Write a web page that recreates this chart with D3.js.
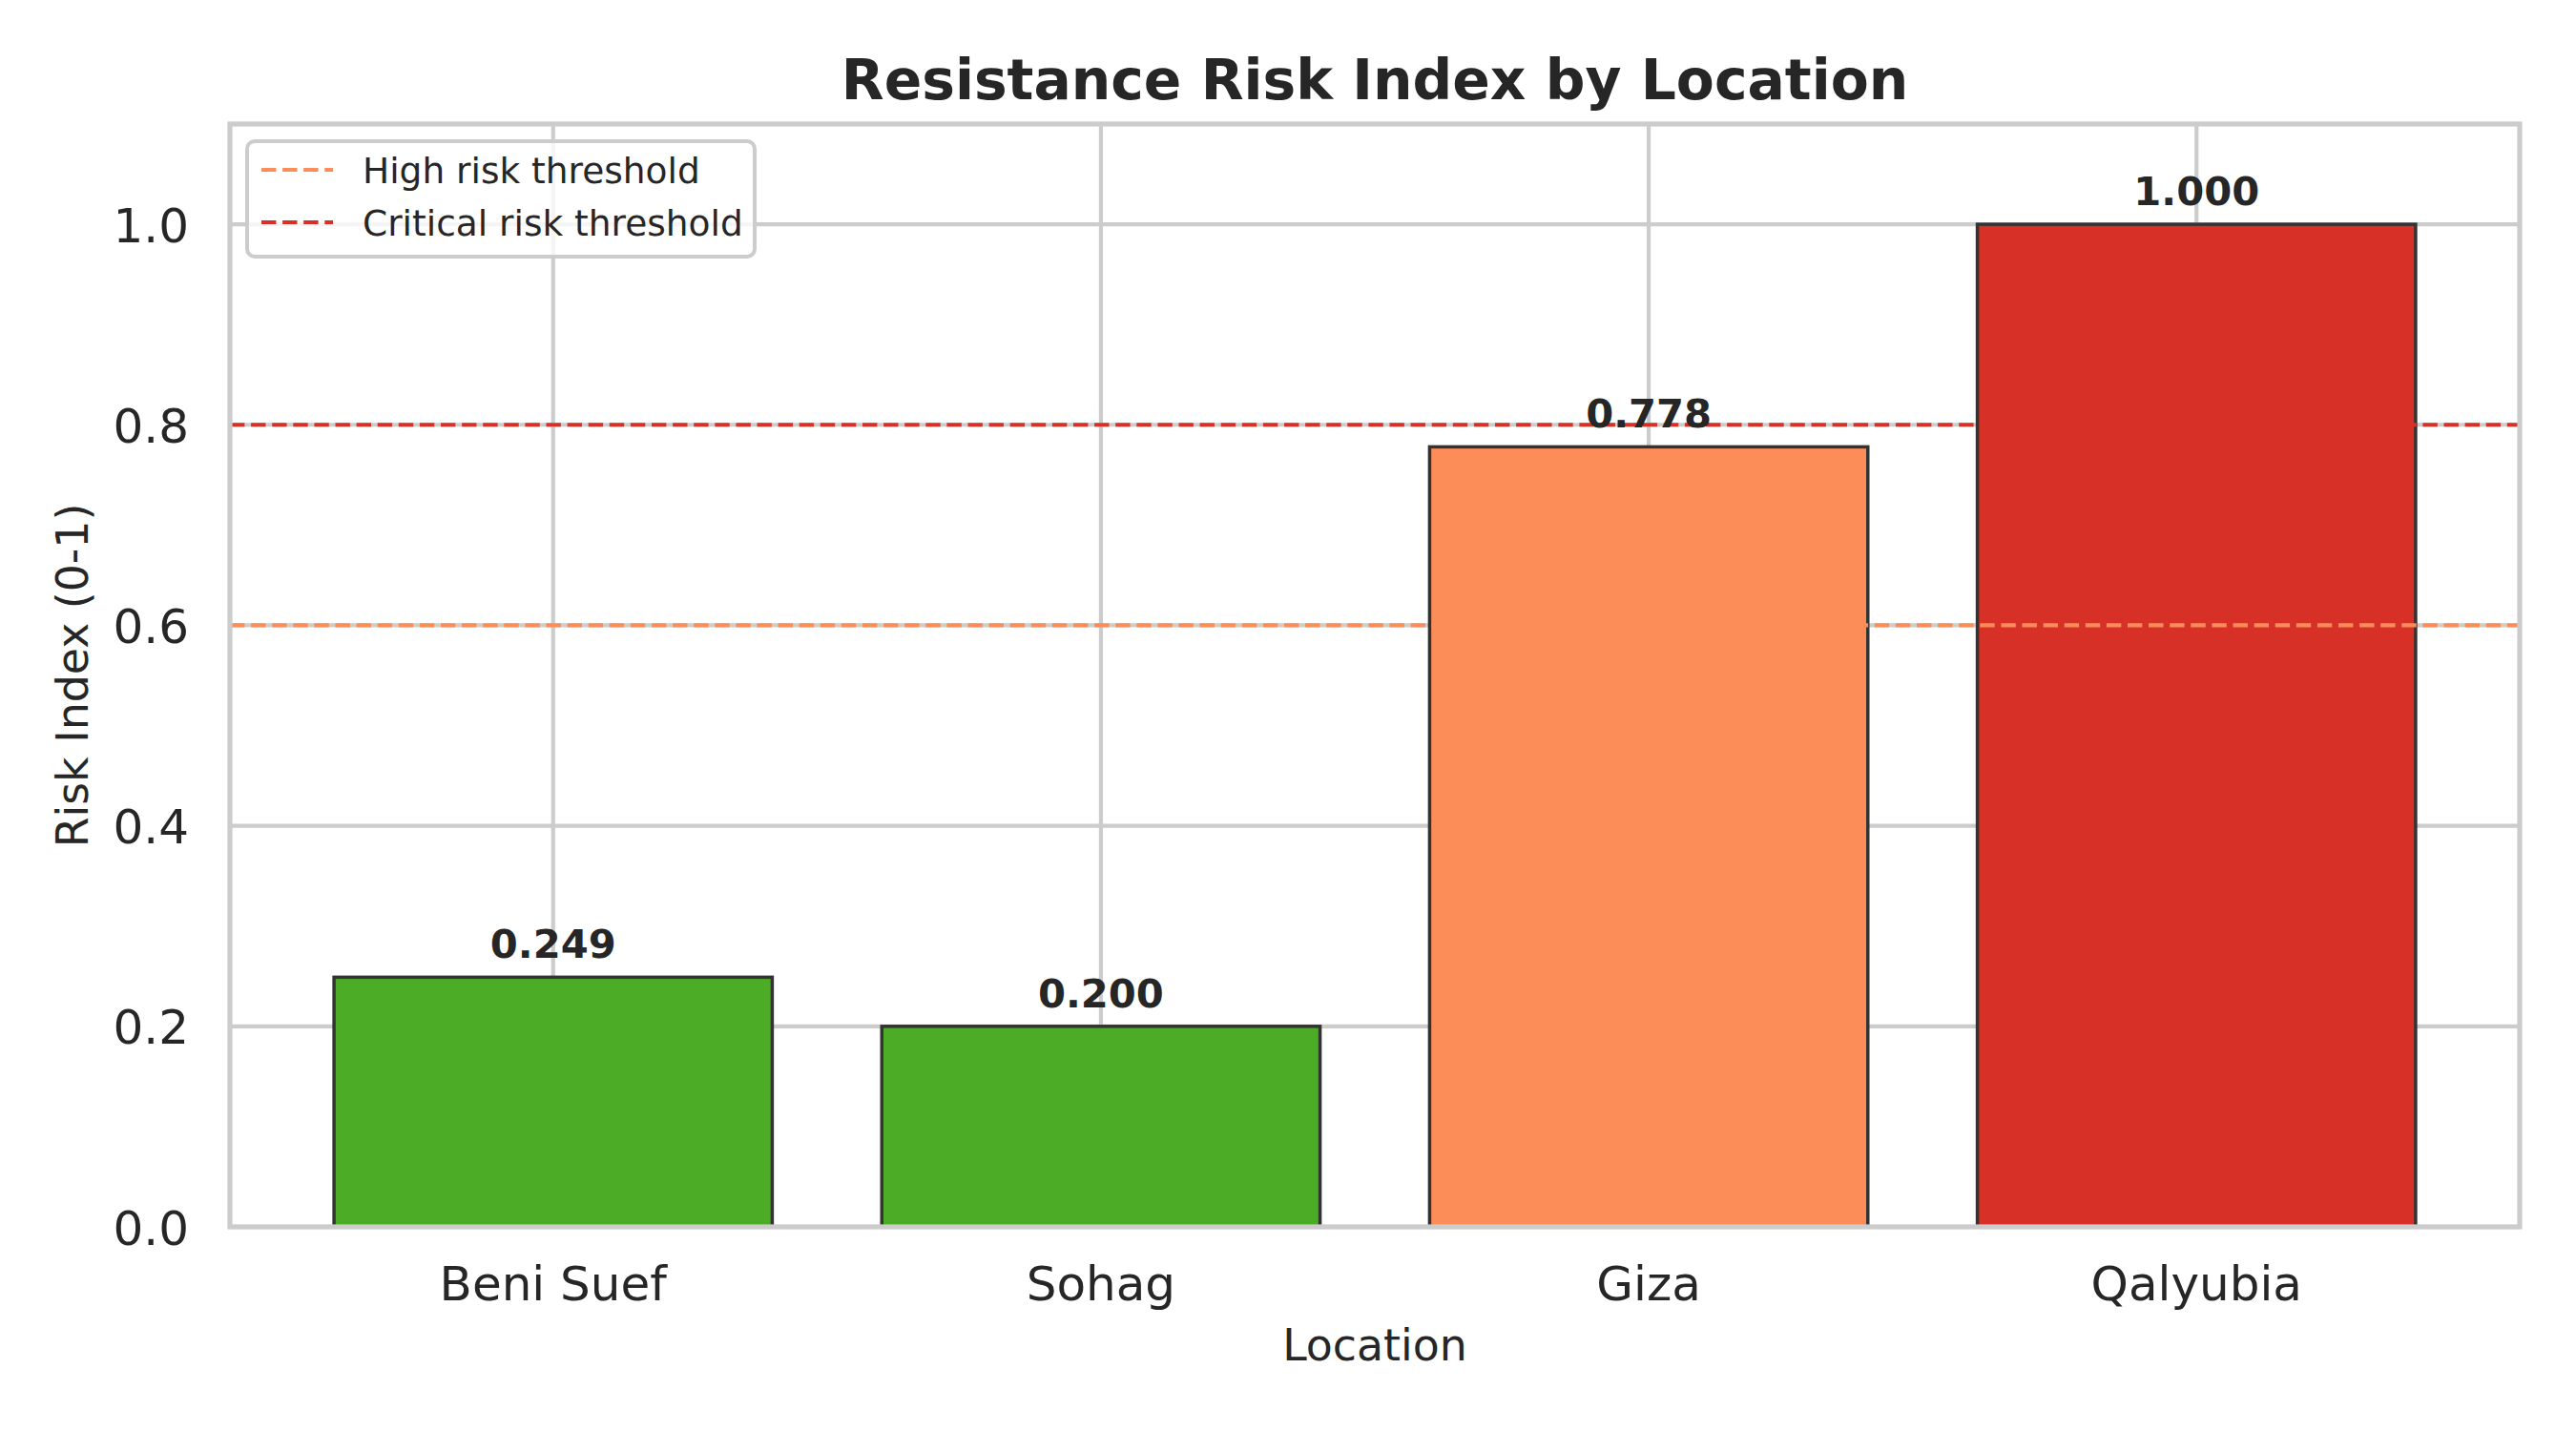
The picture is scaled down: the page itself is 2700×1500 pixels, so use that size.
<!DOCTYPE html>
<html>
<head>
<meta charset="utf-8">
<script src="https://cdn.jsdelivr.net/npm/d3@7"></script>
<style>
  html, body { margin: 0; padding: 0; background: #ffffff; }
  svg { display: block; font-family: "DejaVu Sans", sans-serif; }
</style>
</head>
<body>
<svg id="chart" width="2700" height="1500"></svg>
<script>
// ---- data ----
const locations = ["Beni Suef", "Sohag", "Giza", "Qalyubia"];
const riskIndex = [0.249, 0.200, 0.778, 1.000];
const thresholdLabels = ["High risk threshold", "Critical risk threshold"];
const thresholdValues = [0.6, 0.8];
const yTickValues = [0.0, 0.2, 0.4, 0.6, 0.8, 1.0];

// ---- styles ----
const thresholdColors = ["#fc8d59", "#d73027"];
const lowColor = "#4dac26";
const textColor = "#262626";
const gridColor = "#cccccc";

(function () {
const W = 2700, H = 1500;
const mLeft = 241, mRight = 2641, mTop = 130, mBottom = 1286;

const svg = d3.select("#chart");
svg.append("rect").attr("width", W).attr("height", H).attr("fill", "#ffffff");

const x = d3.scaleBand().domain(locations).range([mLeft, mRight])
  .paddingInner(0.2).paddingOuter(0.19);
const y = d3.scaleLinear().domain([0, 1.1]).range([mBottom, mTop]);

function barColor(v) {
  if (v >= thresholdValues[1]) return thresholdColors[1];
  if (v >= thresholdValues[0]) return thresholdColors[0];
  return lowColor;
}

const data = locations.map((l, i) => ({ loc: l, v: riskIndex[i] }));

// grid
const grid = svg.append("g");
grid.selectAll("line.h").data(yTickValues).join("line").attr("class", "h")
  .attr("x1", mLeft).attr("x2", mRight)
  .attr("y1", d => y(d)).attr("y2", d => y(d))
  .attr("stroke", gridColor).attr("stroke-width", 4.2);
grid.selectAll("line.v").data(locations).join("line").attr("class", "v")
  .attr("x1", d => x(d) + x.bandwidth() / 2).attr("x2", d => x(d) + x.bandwidth() / 2)
  .attr("y1", mTop).attr("y2", mBottom)
  .attr("stroke", gridColor).attr("stroke-width", 4.2);

// bars
svg.append("g").selectAll("rect").data(data).join("rect")
  .attr("x", d => x(d.loc)).attr("width", x.bandwidth())
  .attr("y", d => y(d.v)).attr("height", d => y(0) - y(d.v))
  .attr("fill", d => barColor(d.v))
  .attr("stroke", "#333333").attr("stroke-width", 3.5);

// threshold lines
svg.append("g").selectAll("line").data(thresholdValues).join("line")
  .attr("x1", mLeft).attr("x2", mRight)
  .attr("y1", d => y(d)).attr("y2", d => y(d))
  .attr("stroke", (d, i) => thresholdColors[i]).attr("stroke-width", 4.2)
  .attr("stroke-dasharray", "15.4,6.7");

// value labels
svg.append("g").selectAll("text").data(data).join("text")
  .attr("x", d => x(d.loc) + x.bandwidth() / 2)
  .attr("y", d => y(d.v) - 20)
  .attr("text-anchor", "middle")
  .attr("font-size", 41.7).attr("font-weight", "bold")
  .attr("fill", textColor)
  .text(d => d3.format(".3f")(d.v));

// spines
svg.append("rect").attr("x", mLeft).attr("y", mTop)
  .attr("width", mRight - mLeft).attr("height", mBottom - mTop)
  .attr("fill", "none").attr("stroke", gridColor).attr("stroke-width", 5.2);

// y axis
const yAxis = d3.axisLeft(y).tickValues(yTickValues).tickSize(0).tickPadding(0)
  .tickFormat(d3.format(".1f"));
const gy = svg.append("g").attr("transform", `translate(${mLeft - 43},0)`).call(yAxis);
gy.select(".domain").remove();
gy.selectAll("text").attr("font-size", 50).attr("fill", textColor)
  .attr("font-family", "DejaVu Sans").attr("dy", "0.36em");

// x axis
const xAxis = d3.axisBottom(x).tickSize(0).tickPadding(0);
const gx = svg.append("g").attr("transform", `translate(0,${mBottom})`).call(xAxis);
gx.select(".domain").remove();
gx.selectAll("text").attr("font-size", 50).attr("fill", textColor)
  .attr("font-family", "DejaVu Sans").attr("dy", null).attr("y", 77);

// axis titles
svg.append("text").attr("x", (mLeft + mRight) / 2).attr("y", 1426)
  .attr("text-anchor", "middle").attr("font-size", 45.8).attr("fill", textColor)
  .text("Location");
svg.append("text")
  .attr("transform", `translate(92,${(mTop + mBottom) / 2}) rotate(-90)`)
  .attr("text-anchor", "middle").attr("font-size", 45.8).attr("fill", textColor)
  .text("Risk Index (0-1)");

// title
svg.append("text").attr("x", (mLeft + mRight) / 2).attr("y", 104)
  .attr("text-anchor", "middle").attr("font-size", 58.3).attr("font-weight", "bold")
  .attr("fill", textColor)
  .text("Resistance Risk Index by Location");

// legend
const lg = svg.append("g");
lg.append("rect").attr("x", 259).attr("y", 148).attr("width", 532).attr("height", 121)
  .attr("rx", 8).attr("ry", 8)
  .attr("fill", "rgba(255,255,255,0.8)").attr("stroke", gridColor).attr("stroke-width", 4);
thresholdLabels.forEach((lab, i) => {
  const cy = 178 + i * 55;
  lg.append("line").attr("x1", 274).attr("x2", 349).attr("y1", cy).attr("y2", cy)
    .attr("stroke", thresholdColors[i]).attr("stroke-width", 4.2)
    .attr("stroke-dasharray", "15.4,6.7");
  lg.append("text").attr("x", 380).attr("y", cy).attr("dy", "0.36em")
    .attr("font-size", 37.5).attr("fill", textColor).text(lab);
});
})();
</script>
</body>
</html>
